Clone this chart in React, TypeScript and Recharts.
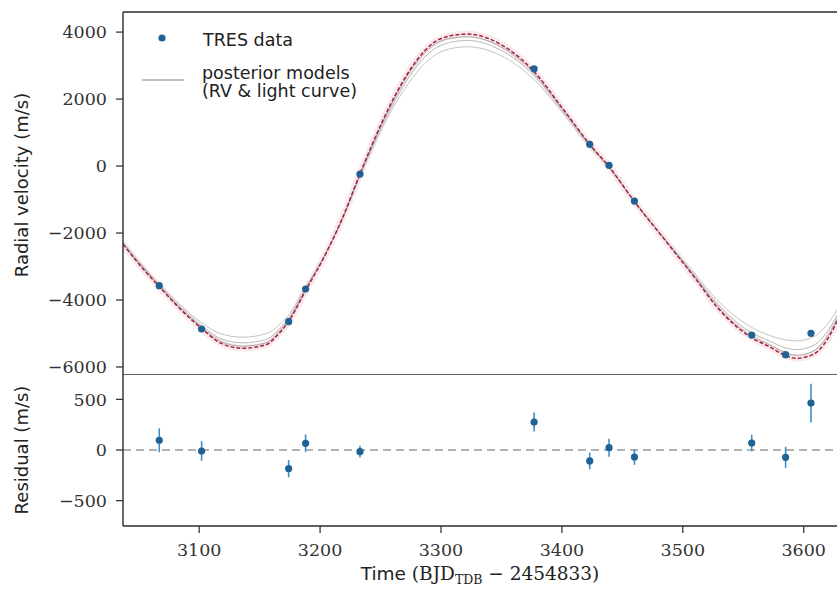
import { ComposedChart, Line, Scatter, XAxis, YAxis, ReferenceLine, ErrorBar, Label } from 'recharts'

// time grid of the model curves (BJD_TDB - 2454833)
const modelTime = [3037, 3050, 3067, 3085, 3102, 3118, 3136, 3155, 3166, 3174, 3188, 3205, 3219, 3233, 3252, 3266, 3280, 3293, 3307, 3322, 3349, 3377, 3400, 3423, 3439, 3460, 3489, 3510, 3528, 3557, 3572, 3585, 3594, 3603, 3612, 3620, 3630]

// best fit (red dashed)
const bestFit = [-2330, -2920, -3600, -4290, -4850, -5290, -5440, -5340, -5000, -4640, -3720, -2600, -1510, -230, 1370, 2370, 3160, 3660, 3880, 3940, 3640, 2820, 1750, 650, -20, -1060, -2380, -3340, -4200, -5130, -5400, -5660, -5740, -5690, -5520, -5150, -4450]

// a few posterior draws (grey)
const postLow = [-2260, -2840, -3520, -4170, -4680, -5010, -5110, -5010, -4750, -4450, -3620, -2580, -1550, -320, 1180, 2080, 2800, 3260, 3500, 3560, 3310, 2580, 1620, 580, -60, -1060, -2340, -3230, -3980, -4820, -5060, -5190, -5220, -5170, -5010, -4700, -4150]
const postMid = [-2300, -2880, -3560, -4230, -4770, -5160, -5280, -5180, -4880, -4550, -3670, -2590, -1530, -270, 1270, 2220, 2980, 3460, 3690, 3750, 3470, 2700, 1690, 620, -40, -1060, -2360, -3290, -4090, -4980, -5230, -5430, -5480, -5430, -5260, -4920, -4300]
const postHigh = [-2320, -2900, -3590, -4270, -4820, -5240, -5380, -5280, -4950, -4600, -3700, -2580, -1520, -250, 1330, 2320, 3100, 3590, 3810, 3860, 3570, 2770, 1720, 640, -30, -1060, -2370, -3320, -4160, -5080, -5340, -5580, -5650, -5600, -5420, -5060, -4380]

// TRES observations
const obsTime = [3067, 3102, 3174, 3188, 3233, 3377, 3423, 3439, 3460, 3557, 3585, 3606]
const obsRv = [-3573, -4866, -4648, -3672, -239, 2904, 648, 21, -1045, -5045, -5632, -4994]
const residual = [96, -10, -184, 66, -17, 276, -108, 23, -69, 69, -72, 463]
const residualErr = [118, 97, 86, 87, 58, 94, 82, 89, 77, 82, 104, 191]

const rvTicks = [-6000, -4000, -2000, 0, 2000, 4000]
const resTicks = [-500, 0, 500]
const timeTicks = [3100, 3200, 3300, 3400, 3500, 3600]

const models = modelTime.map((t, i) => ({ t, best: bestFit[i], a: postLow[i], b: postMid[i], c: postHigh[i] }))
const obs = obsTime.map((t, i) => ({ t, v: obsRv[i] }))
const res = obsTime.map((t, i) => ({ t, r: residual[i], e: residualErr[i] }))

const W = 842
const X_DOMAIN: [number, number] = [3037, 3630]
const INK = '#2a2a2a'
const DOT = '#1f6394'
const tickStyle = { fontFamily: 'DejaVu Serif', fontSize: 17.5, fill: '#333' }
const fmt = (v: number) => (v < 0 ? '\u2212' + Math.abs(v) : String(v))

const Dot = (p: any) => <circle cx={p.cx} cy={p.cy} r={3.6} fill={DOT} />

export default function App() {
  return (
    <div style={{ position: 'absolute', left: 0, top: 0, width: 837, height: 589, overflow: 'hidden', background: '#fff' }}>
      <div style={{ position: 'absolute', left: 0, top: 0 }}>
        <ComposedChart width={W} height={376} data={models} margin={{ top: 12, right: 2, bottom: 2, left: 0 }}>
          <XAxis dataKey="t" type="number" domain={X_DOMAIN} allowDataOverflow hide />
          <YAxis
            type="number"
            domain={[-6210, 4600]}
            ticks={rvTicks}
            interval={0}
            tickFormatter={fmt}
            width={123}
            tickSize={7}
            tickMargin={9}
            tick={tickStyle}
            axisLine={{ stroke: INK, strokeWidth: 1.4 }}
            tickLine={{ stroke: INK, strokeWidth: 1.2 }}
            allowDataOverflow
          >
            <Label
              content={() => (
                <text
                  x={28}
                  y={185}
                  transform="rotate(-90 28 185)"
                  textAnchor="middle"
                  fontFamily="DejaVu Sans"
                  fontSize={18}
                  fill="#222"
                >
                  Radial velocity (m/s)
                </text>
              )}
            />
          </YAxis>
          <ReferenceLine y={4600} stroke={INK} strokeWidth={1.4} />
          <Line dataKey="best" type="monotone" stroke="#ec9aa4" strokeOpacity={0.22} strokeWidth={7} dot={false} isAnimationActive={false} />
          <Line dataKey="a" type="monotone" stroke="#c4c4c4" strokeWidth={1} dot={false} isAnimationActive={false} />
          <Line dataKey="b" type="monotone" stroke="#b8b8b8" strokeWidth={1} dot={false} isAnimationActive={false} />
          <Line dataKey="c" type="monotone" stroke="#a6a6a6" strokeWidth={1} dot={false} isAnimationActive={false} />
          <Line dataKey="best" type="monotone" stroke="#9c2540" strokeWidth={1.5} strokeDasharray="4 2" dot={false} isAnimationActive={false} />
          <Scatter data={obs} dataKey="v" shape={Dot} isAnimationActive={false} />
        </ComposedChart>
      </div>

      <svg style={{ position: 'absolute', left: 0, top: 0 }} width={400} height={110}>
        <circle cx={162} cy={38} r={3.6} fill={DOT} />
        <text x={203} y={46} fontFamily="DejaVu Sans" fontSize={17.5} fill="#222">TRES data</text>
        <line x1={142} y1={80} x2={184} y2={80} stroke="#a8a8a8" strokeWidth={1.4} />
        <text x={202} y={79} fontFamily="DejaVu Sans" fontSize={17.5} fill="#222">posterior models</text>
        <text x={202} y={97} fontFamily="DejaVu Sans" fontSize={17.5} fill="#222">(RV &amp; light curve)</text>
      </svg>

      <div style={{ position: 'absolute', left: 0, top: 374 }}>
        <ComposedChart width={W} height={215} data={res} margin={{ top: 0, right: 2, bottom: 0, left: 0 }}>
          <XAxis
            dataKey="t"
            type="number"
            domain={X_DOMAIN}
            allowDataOverflow
            ticks={timeTicks}
            interval={0}
            height={63}
            tickSize={7}
            tickMargin={11}
            tick={tickStyle}
            axisLine={{ stroke: INK, strokeWidth: 1.4 }}
            tickLine={{ stroke: INK, strokeWidth: 1.2 }}
          >
            <Label
              content={() => (
                <text x={480} y={206} textAnchor="middle" fontSize={18.5} fill="#222">
                  <tspan fontFamily="DejaVu Sans">Time </tspan>
                  <tspan fontFamily="DejaVu Serif">(BJD</tspan>
                  <tspan fontFamily="DejaVu Serif" fontSize={12.5} dy={4}>TDB</tspan>
                  <tspan fontFamily="DejaVu Serif" dy={-4}> {'\u2212'} 2454833)</tspan>
                </text>
              )}
            />
          </XAxis>
          <YAxis
            type="number"
            domain={[-750, 750]}
            ticks={resTicks}
            interval={0}
            tickFormatter={fmt}
            width={123}
            tickSize={7}
            tickMargin={9}
            tick={tickStyle}
            axisLine={{ stroke: INK, strokeWidth: 1.4 }}
            tickLine={{ stroke: INK, strokeWidth: 1.2 }}
            allowDataOverflow
          >
            <Label
              content={() => (
                <text
                  x={28}
                  y={76}
                  transform="rotate(-90 28 76)"
                  textAnchor="middle"
                  fontFamily="DejaVu Sans"
                  fontSize={18}
                  fill="#222"
                >
                  Residual (m/s)
                </text>
              )}
            />
          </YAxis>
          <ReferenceLine y={750} stroke={INK} strokeWidth={1.4} />
          <ReferenceLine y={0} stroke="#9a9a9a" strokeWidth={1.5} strokeDasharray="8 5" />
          <Scatter dataKey="r" shape={Dot} isAnimationActive={false}>
            <ErrorBar dataKey="e" direction="y" width={0} stroke="#3d8fc7" strokeWidth={1.6} />
          </Scatter>
        </ComposedChart>
      </div>
    </div>
  )
}
